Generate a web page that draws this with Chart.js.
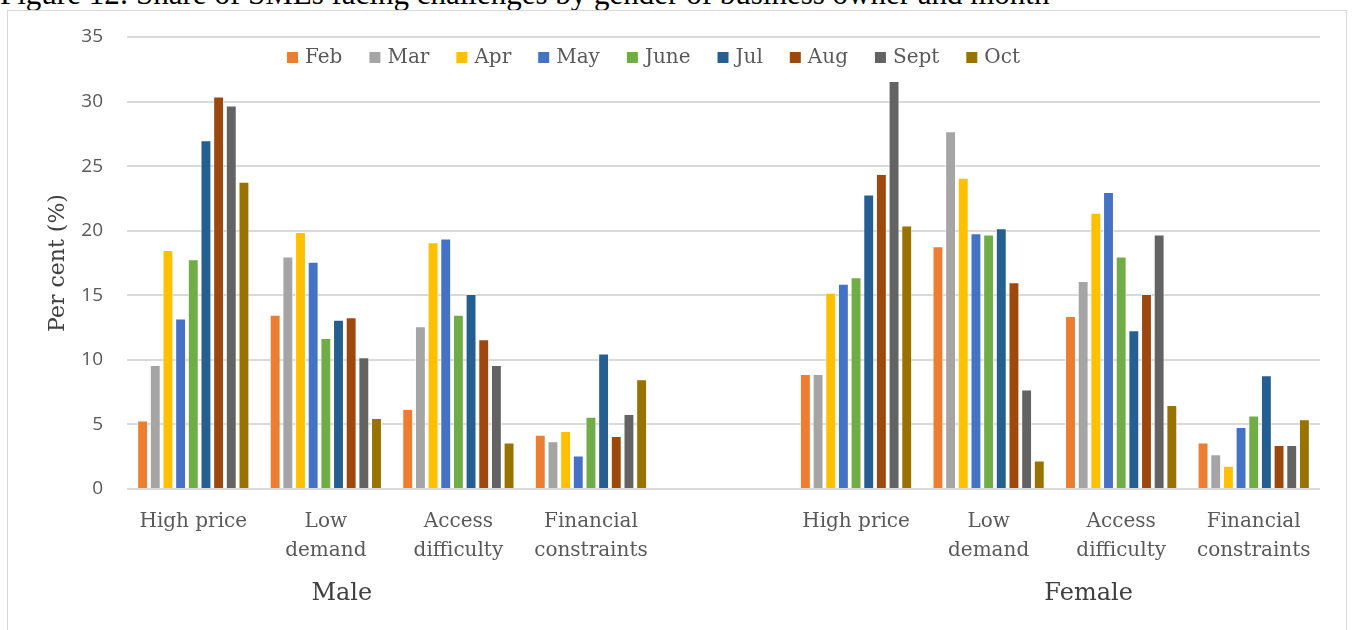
<!DOCTYPE html>
<html>
<head>
<meta charset="utf-8">
<script src="https://cdn.jsdelivr.net/npm/chart.js@4.4.1/dist/chart.umd.min.js"></script>
<style>
  body { margin: 0; background: #fff; width: 1352px; height: 630px; overflow: hidden; position: relative; }
  #title { position: absolute; left: 0; top: -22px; font-family: "Liberation Serif", serif; font-size: 31px; line-height: 31px; color: #000; white-space: nowrap; }
  #frame { position: absolute; left: 7px; top: 10px; width: 1338px; height: 660px; border: 1px solid #d9d9d9; }
  #chart { position: absolute; left: 0; top: 0; }
</style>
</head>
<body>
<div id="title">Figure 12: Share of SMEs facing challenges by gender of business owner and month</div>
<div id="frame"></div>
<canvas id="chart" width="1352" height="630"></canvas>
<script>
// categories (blank slot separates the two groups)
const categories = [
  "High price", ["Low", "demand"], ["Access", "difficulty"], ["Financial", "constraints"],
  "",
  "High price", ["Low", "demand"], ["Access", "difficulty"], ["Financial", "constraints"]
];
const groups = ["Male", "Female"];
const months = ["Feb", "Mar", "Apr", "May", "June", "Jul", "Aug", "Sept", "Oct"];
const colors = ["#ED7D31", "#A5A5A5", "#FFC000", "#4472C4", "#70AD47", "#255E91", "#9E480E", "#636363", "#997300"];

// per cent of SMEs, order: male x4, gap, female x4
const feb  = [5.3, 13.5, 6.2, 4.2, null, 8.9, 18.8, 13.4, 3.6];
const mar  = [9.6, 18.0, 12.6, 3.7, null, 8.9, 27.7, 16.1, 2.7];
const apr  = [18.5, 19.9, 19.1, 4.5, null, 15.2, 24.1, 21.4, 1.8];
const may  = [13.2, 17.6, 19.4, 2.6, null, 15.9, 19.8, 23.0, 4.8];
const june = [17.8, 11.7, 13.5, 5.6, null, 16.4, 19.7, 18.0, 5.7];
const jul  = [27.0, 13.1, 15.1, 10.5, null, 22.8, 20.2, 12.3, 8.8];
const aug  = [30.4, 13.3, 11.6, 4.1, null, 24.4, 16.0, 15.1, 3.4];
const sept = [29.7, 10.2, 9.6, 5.8, null, 31.6, 7.7, 19.7, 3.4];
const oct  = [23.8, 5.5, 3.6, 8.5, null, 20.4, 2.2, 6.5, 5.4];
const series = [feb, mar, apr, may, june, jul, aug, sept, oct];

const yTicks = [0, 5, 10, 15, 20, 25, 30, 35];

const textGrey = "#595959";
const serif = "'DejaVu Serif', serif";

// legend sits inside the plot, left of centre, like the original
const insideLegend = {
  id: "insideLegend",
  afterDraw(chart) {
    const ctx = chart.ctx;
    ctx.save();
    ctx.font = "20px " + serif;
    ctx.textBaseline = "middle";
    ctx.textAlign = "left";
    let x = 287;
    const y = 58;
    months.forEach((m, i) => {
      ctx.fillStyle = colors[i];
      ctx.fillRect(x, y - 6, 11, 11);
      ctx.fillStyle = textGrey;
      ctx.fillText(m, x + 18, y);
      x += 18 + ctx.measureText(m).width + 27;
    });
    ctx.restore();
  }
};

// group names under the category labels
const groupLabels = {
  id: "groupLabels",
  afterDraw(chart) {
    const ctx = chart.ctx;
    const xs = chart.scales.x;
    ctx.save();
    ctx.font = "24px " + serif;
    ctx.fillStyle = "#404040";
    ctx.textAlign = "center";
    ctx.textBaseline = "middle";
    ctx.fillText(groups[0], xs.getPixelForValue(1) + 16, 594);
    ctx.fillText(groups[1], xs.getPixelForValue(6) + 100, 594);
    ctx.restore();
  }
};

new Chart(document.getElementById("chart"), {
  type: "bar",
  data: {
    labels: categories,
    datasets: months.map((m, i) => ({
      label: m,
      data: series[i],
      backgroundColor: colors[i],
      borderColor: "rgba(255,255,255,0.6)",
      borderWidth: { top: 1, left: 1, right: 1, bottom: 0 },
      borderSkipped: "bottom",
      categoryPercentage: 0.86,
      barPercentage: 0.86
    }))
  },
  options: {
    responsive: false,
    animation: false,
    layout: { padding: { top: 37, right: 32, bottom: 0, left: 0 } },
    plugins: {
      legend: { display: false },
      tooltip: { enabled: false }
    },
    scales: {
      x: {
        grid: { display: false, drawTicks: false },
        border: { display: false },
        ticks: {
          font: { family: serif, size: 20, lineHeight: 1.45 },
          color: textGrey,
          padding: 18,
          maxRotation: 0,
          autoSkip: false
        },
        afterFit(scale) { scale.height = 141; }
      },
      y: {
        min: 0,
        max: 35,
        afterBuildTicks(scale) { scale.ticks = yTicks.map(v => ({ value: v })); },
        grid: { color: "#d9d9d9", lineWidth: 2, drawTicks: false },
        border: { display: false },
        ticks: {
          font: { family: "'Open Sans', sans-serif", size: 19 },
          color: textGrey,
          padding: 24
        },
        title: {
          display: true,
          text: "Per cent (%)",
          font: { family: serif, size: 22, lineHeight: 1.2 },
          color: "#404040",
          padding: { top: 45, bottom: 0 }
        },
        afterFit(scale) { scale.width = 127; }
      }
    }
  },
  plugins: [insideLegend, groupLabels]
});
</script>
</body>
</html>
